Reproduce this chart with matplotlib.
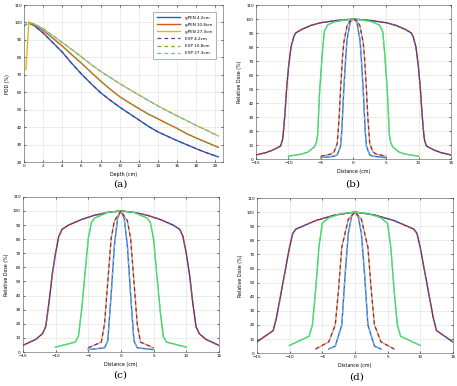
import numpy as np
import matplotlib
matplotlib.use("Agg")
import matplotlib.pyplot as plt

# --- PDD andmed (a) ---
depth = [0.5, 1, 2, 3, 4, 5, 6, 7, 8, 9, 10, 11, 12, 13, 14, 15, 16, 17, 18, 19, 20.3]
pdd_42 = [100, 98.5, 94, 88.5, 83, 76.5, 70.5, 65, 59.8, 55.5, 51.5, 47.8, 44.2, 40.5, 37.3, 34.8, 32.3, 30, 27.7, 25.5, 23]
pdd_108 = [100, 99, 95.5, 91, 86.5, 81.5, 76.7, 71.5, 66.5, 61.8, 57.5, 54, 50.7, 47.5, 44.8, 42, 39.3, 36.3, 33.8, 31.5, 28.5]
pdd_273 = [100, 99.3, 96.5, 92.5, 88.5, 84.5, 80.3, 76, 72, 68.5, 65, 61.7, 58.5, 55.3, 52.2, 49.3, 46.5, 43.8, 41, 38.5, 35]
exp_start_depth = [0, 0.4]
exp_start_val = [98, 99.5]
pen_start_depth = [0.2]
pen_start_val = [73]

# --- profiilid (b), (c), (d): vasak pool, peegeldatakse ---
# (b)
b_large_x = [-15, -13.5, -12.4, -11.2, -10.9, -10.7, -10.5, -10.3, -10.0, -9.6, -9.2, -8.9, -8, -6.5, -5, -2.5, 0]
b_large_y = [2.9, 4.5, 6.4, 9.3, 14, 23, 35, 49, 65, 80, 87, 90, 92.5, 95.5, 97.4, 99, 100]
b_mid_x = [-10, -8, -7, -6, -5.7, -5.5, -5.2, -4.8, -4.5, -4, -3, -2, 0]
b_mid_y = [2, 3.5, 5, 8.8, 12, 18, 49, 75, 91, 95.7, 97.8, 98.8, 100]
b_n1_x = [-5, -3, -2.5, -2, -1.8, -1.5, -1.2, -1, -0.5, 0]
b_n1_y = [1, 2, 3, 9, 20, 49, 72, 85, 98, 100]
b_n2_x = [-5, -3.5, -3, -2.5, -2.2, -2, -1.7, -1.5, -1, -0.5, 0]
b_n2_y = [2, 3.5, 5, 11, 30, 49, 72, 83, 95, 99, 100]

# (c)
c_large_x = [-15, -13, -12, -11.5, -11, -10.5, -10, -9.5, -9, -8, -6, -4, -2, 0]
c_large_y = [4.7, 9, 13, 18, 35, 55, 70, 82, 87, 90, 94, 97, 99, 100]
c_mid_x = [-10, -7, -6.5, -6, -5.5, -5, -4.5, -4, -2, 0]
c_mid_y = [3.5, 7, 11, 30, 55, 80, 92, 95, 99, 100]
c_n1_x = [-5, -2.5, -2, -1.5, -1, -0.5, 0]
c_n1_y = [1.7, 3, 8, 40, 75, 95, 100]
c_n2_x = [-5, -3, -2.5, -2, -1.5, -1, 0]
c_n2_y = [3, 7, 20, 50, 80, 93, 100]

# (d)
d_large_x = [-15, -12.5, -12, -11, -10, -9.5, -9, -6, -3, 0]
d_large_y = [8, 16, 25, 50, 75, 85, 88, 94, 98, 100]
d_mid_x = [-10, -7, -6.5, -6, -5.5, -5, -4, -2, 0]
d_mid_y = [5.5, 12, 20, 45, 75, 92, 96, 99, 100]
d_n1_x = [-4, -3, -2, -1.5, -1, -0.5, 0]
d_n1_y = [3, 5, 20, 55, 85, 97, 100]
d_n2_x = [-6, -4, -3, -2.5, -2, -1, 0]
d_n2_y = [3, 8, 20, 45, 75, 95, 100]

# --- värvid ---
C_BLUE = "#0072BD"
C_RED = "#D95319"
C_YEL = "#EDB120"
C_PUR = "#7E2F8E"
C_GRN = "#77AC30"
C_CYA = "#4DBEEE"

FS = 3.0
DASH = (0, (3, 2.5))


def mirror(xs, ys):
    """Peegelda vasak pool paremale"""
    xs = np.asarray(xs, float)
    ys = np.asarray(ys, float)
    return np.concatenate([xs, -xs[-2::-1]]), np.concatenate([ys, ys[-2::-1]])


def style(ax, xlim, ylim, xt, yt, xlabel, ylabel):
    ax.set_xlim(*xlim)
    ax.set_ylim(*ylim)
    ax.set_xticks(xt)
    ax.set_yticks(yt)
    ax.tick_params(labelsize=FS, length=1.5, width=0.4, pad=1.5, direction="in",
                   top=True, right=True)
    ax.grid(True, color="#dddddd", lw=0.4)
    ax.set_axisbelow(True)
    for s in ax.spines.values():
        s.set_linewidth(0.4)
        s.set_color("#555555")
    ax.set_xlabel(xlabel, fontsize=FS + 0.4, labelpad=2.5)
    ax.set_ylabel(ylabel, fontsize=FS + 0.4, labelpad=3)


def profiles(ax, large, mid, n1, n2):
    for (xs, ys), c1, c2 in [
        (large, "#2E3A9E", "#D63C2C"),
        (mid, "#3ED83E", "#55D8B0"),
        (n1, "#3B63C8", "#64B8EA"),
        (n2, "#F0A53A", "#6E2C91"),
    ]:
        mx, my = mirror(xs, ys)
        ax.plot(mx, my, color=c1, lw=1.0)
        ax.plot(mx, my, color=c2, lw=0.9, ls=DASH)
    style(ax, (-15, 15), (0, 110), range(-15, 16, 5), range(0, 111, 10),
          "Distance (cm)", "Relative Dose (%)")


fig = plt.figure(figsize=(4.57, 3.86), dpi=100)

# (a)
ax = fig.add_axes([0.0525, 0.580, 0.4355, 0.407])
ax.plot(depth, pdd_42, color=C_BLUE, lw=1.0, label="gPEN 4.2cm")
ax.plot(depth, pdd_108, color=C_RED, lw=1.0, label="gPEN 10.8cm")
ax.plot(pen_start_depth + depth, pen_start_val + pdd_273, color=C_YEL, lw=1.0, label="gPEN 27.3cm")
ax.plot(exp_start_depth + depth[1:], exp_start_val + pdd_42[1:], color=C_PUR, lw=0.9, ls=DASH, label="EXP 4.2cm")
ax.plot(exp_start_depth + depth[1:], exp_start_val + pdd_108[1:], color=C_GRN, lw=0.9, ls=DASH, label="EXP 10.8cm")
ax.plot(exp_start_depth + depth[1:], exp_start_val + pdd_273[1:], color=C_CYA, lw=0.9, ls=DASH, label="EXP 27.3cm")
style(ax, (0, 20.8), (20, 110), range(0, 21, 2), range(20, 111, 10), "Depth (cm)", "PDD (%)")
leg = ax.legend(loc="upper right", fontsize=FS, frameon=True, fancybox=False, edgecolor="#555555",
                borderpad=0.9, labelspacing=0.75, handlelength=5.5, handletextpad=1.2,
                bbox_to_anchor=(0.975, 0.97))
leg.get_frame().set_linewidth(0.4)

# (b)
ax = fig.add_axes([0.560, 0.588, 0.427, 0.399])
profiles(ax, (b_large_x, b_large_y), (b_mid_x, b_mid_y), (b_n1_x, b_n1_y), (b_n2_x, b_n2_y))

# (c)
ax = fig.add_axes([0.050, 0.088, 0.429, 0.402])
profiles(ax, (c_large_x, c_large_y), (c_mid_x, c_mid_y), (c_n1_x, c_n1_y), (c_n2_x, c_n2_y))

# (d)
ax = fig.add_axes([0.562, 0.085, 0.429, 0.402])
profiles(ax, (d_large_x, d_large_y), (d_mid_x, d_mid_y), (d_n1_x, d_n1_y), (d_n2_x, d_n2_y))

# allkirjad
for x, y, t in [(120, 184, "(a)"), (353, 184, "(b)"), (120, 375, "(c)"), (357, 377, "(d)")]:
    fig.text(x / 457, 1 - y / 386, t, ha="center", va="center", fontsize=7.5, family="DejaVu Serif")

fig.savefig("out.png", dpi=100)
